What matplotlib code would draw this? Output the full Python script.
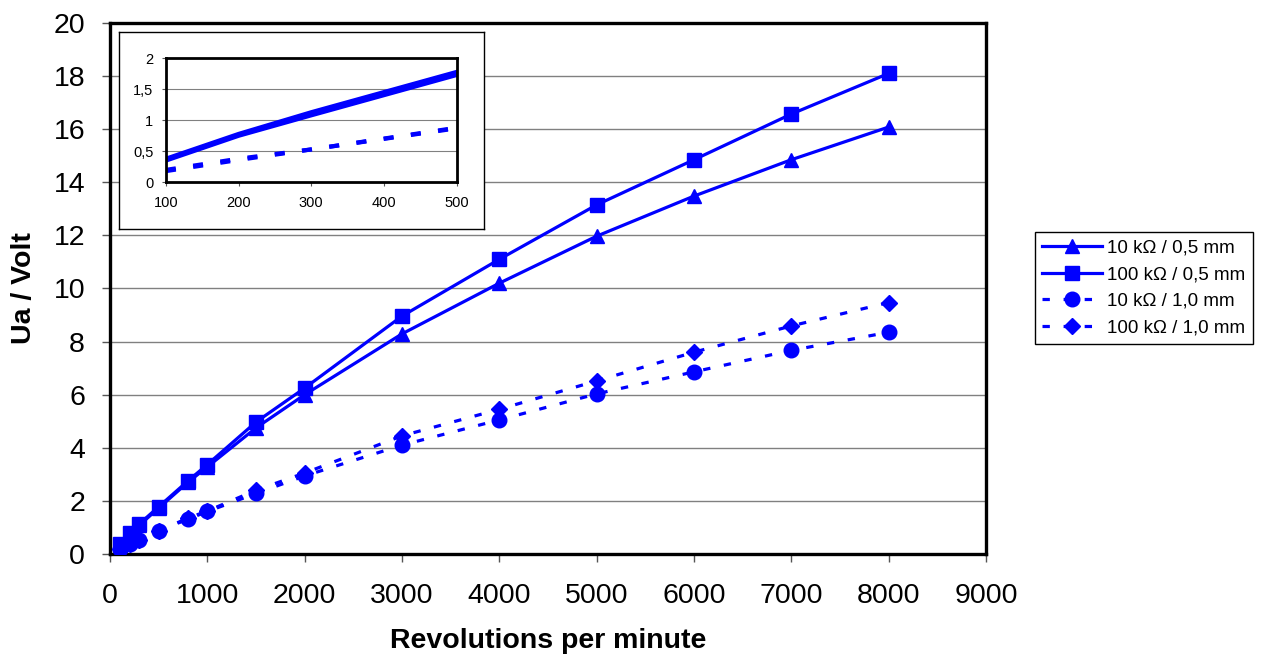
import matplotlib
matplotlib.use('Agg')
import matplotlib.pyplot as plt

plt.rcParams['font.family'] = ['Liberation Sans', 'DejaVu Sans']

# data
rpm = [100, 200, 300, 500, 800, 1000, 1500, 2000, 3000, 4000, 5000, 6000, 7000, 8000]
u_10k_05 = [0.35, 0.75, 1.08, 1.73, 2.70, 3.28, 4.75, 6.00, 8.29, 10.20, 11.97, 13.48, 14.85, 16.08]
u_100k_05 = [0.38, 0.78, 1.13, 1.78, 2.75, 3.37, 4.97, 6.25, 8.96, 11.10, 13.15, 14.85, 16.57, 18.10]
u_10k_10 = [0.20, 0.38, 0.53, 0.88, 1.31, 1.60, 2.28, 2.94, 4.10, 5.05, 6.03, 6.86, 7.67, 8.35]
u_100k_10 = [0.18, 0.36, 0.53, 0.87, 1.35, 1.62, 2.40, 3.05, 4.45, 5.45, 6.52, 7.60, 8.59, 9.47]

labels = ['10 kΩ / 0,5 mm', '100 kΩ / 0,5 mm', '10 kΩ / 1,0 mm', '100 kΩ / 1,0 mm']
x_ticks = [0, 1000, 2000, 3000, 4000, 5000, 6000, 7000, 8000, 9000]
y_ticks = [0, 2, 4, 6, 8, 10, 12, 14, 16, 18, 20]
inset_x_ticks = [100, 200, 300, 400, 500]
inset_y_ticks = [0, 0.5, 1, 1.5, 2]
inset_y_labels = ['0', '0,5', '1', '1,5', '2']

blue = '#0000FF'
dash = (2.3, 4.3)

fig = plt.figure(figsize=(12.62, 6.64), dpi=100)
ax = fig.add_axes([0.0872, 0.1657, 0.6941, 0.7997])

series = [
    (u_10k_05, '^', 10.5, '-'),
    (u_100k_05, 's', 9.5, '-'),
    (u_10k_10, 'o', 10.5, '--'),
    (u_100k_10, 'D', 8, '--'),
]
for (vals, mk, ms, ls), lab in zip(series, labels):
    line, = ax.plot(rpm, vals, color=blue, lw=2.3, marker=mk, markersize=ms,
                    markerfacecolor=blue, markeredgecolor=blue, label=lab, zorder=3)
    if ls == '--':
        line.set_dashes(dash)

ax.set_xlim(0, 9000)
ax.set_ylim(0, 20)
ax.set_xticks(x_ticks)
ax.set_yticks(y_ticks)
ax.yaxis.grid(True, color='#808080', lw=1)
ax.set_axisbelow(True)
for sp in ax.spines.values():
    sp.set_linewidth(2.4)
    sp.set_color('black')
ax.tick_params(axis='both', labelsize=20.5, length=6, width=1, color='#555555')
ax.tick_params(axis='x', pad=15)
ax.tick_params(axis='y', pad=12)

ax.set_xlabel('Revolutions per minute', fontsize=20.5, fontweight='bold')
ax.xaxis.set_label_coords(0.5, -0.14)
ax.set_ylabel('Ua / Volt', fontsize=20.5, fontweight='bold')
ax.yaxis.set_label_coords(-0.083, 0.5)

leg = ax.legend(loc='upper left', bbox_to_anchor=(0.8201, 0.6506), bbox_transform=fig.transFigure,
                borderaxespad=0, fontsize=13.5, handlelength=3.15, labelspacing=0.5,
                frameon=True, fancybox=False, edgecolor='black', framealpha=1,
                borderpad=0.4, handletextpad=0.3)
leg.get_frame().set_linewidth(1)

# white box behind the inset
box = fig.add_axes([0.0943, 0.6551, 0.2892, 0.2971])
box.set_xticks([])
box.set_yticks([])
box.set_facecolor('white')
for sp in box.spines.values():
    sp.set_linewidth(1)
    sp.set_color('black')

# inset: low-speed range
ins = fig.add_axes([0.1315, 0.7255, 0.2303, 0.1867])
for (vals, mk, ms, ls) in series:
    line, = ins.plot(rpm, vals, color=blue, lw=3)
    if ls == '--':
        line.set_dashes((2.4, 4.2))
ins.set_xlim(100, 500)
ins.set_ylim(0, 2)
ins.set_xticks(inset_x_ticks)
ins.set_yticks(inset_y_ticks)
ins.set_yticklabels(inset_y_labels)
ins.yaxis.grid(True, color='#808080', lw=0.8)
ins.set_axisbelow(True)
for sp in ins.spines.values():
    sp.set_linewidth(2)
    sp.set_color('black')
ins.tick_params(axis='both', labelsize=10.5, length=3, width=0.8, color='#555555')
ins.tick_params(axis='x', pad=7)
ins.tick_params(axis='y', pad=6)

fig.savefig('out.png', dpi=100)
